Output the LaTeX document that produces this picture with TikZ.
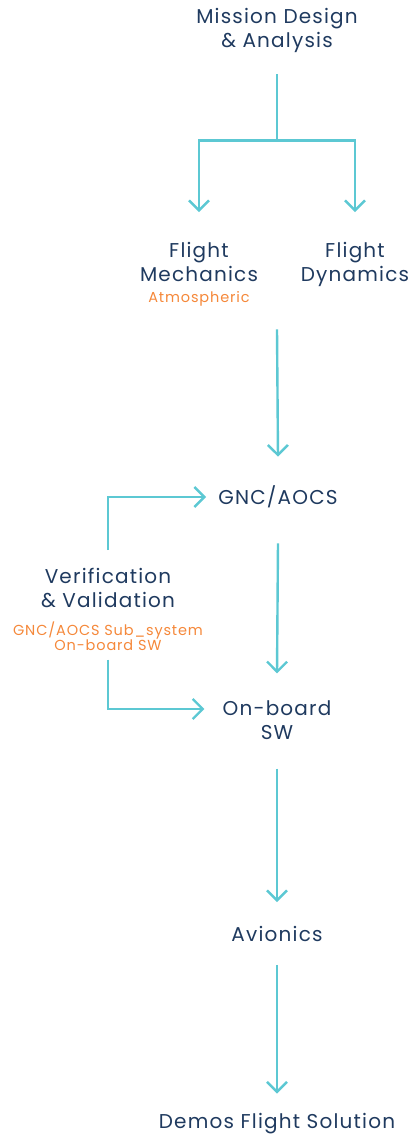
\documentclass[tikz,border=0pt]{standalone}
\usepackage{fontspec}
\setmainfont{Poppins}[LetterSpace=6]
\usetikzlibrary{arrows.meta,calc}
\definecolor{navy}{HTML}{1F3A5F}
\definecolor{flowcyan}{HTML}{5CC8D3}
\definecolor{accent}{HTML}{F5883A}
\tikzstyle{topic} = [text=navy, font=\fontsize{20}{24}\selectfont, align=center, inner sep=0pt]
\tikzstyle{remark} = [text=accent, font=\fontsize{14.5}{15}\selectfont, align=center, inner sep=0pt]
\tikzstyle{link} = [draw=flowcyan, line width=2.4pt]
\tikzstyle{flow} = [link, -{Straight Barb[length=10pt,width=20pt]}]

\begin{document}
\begin{tikzpicture}[x=1pt,y=-1pt]
\useasboundingbox (0,0) rectangle (408,1136);

\node[topic, name=mission] at (277,30) {Mission Design\\\& Analysis};
\node[topic, name=mech] at (199,262) {Flight\\Mechanics};
\node[remark, name=atmo] at (199,299) {Atmospheric};
\node[topic, name=dyn, anchor=north] at ($(mech.north)+(156,0)$) {Flight\\Dynamics};
\node[topic, name=gnc] at (278,497) {GNC/AOCS};
\node[topic, name=vv] at (108,588) {Verification\\\& Validation};
\node[remark, name=vvsub] at (108,636) {GNC/AOCS Sub\_system\\On-board SW};
\node[topic, name=obsw] at (277,720) {On-board\\SW};
\node[topic, name=avio] at (277,934) {Avionics};
\node[topic, name=demo] at (277,1124) {Demos Flight Solution};

% split below mission design
\coordinate (split) at ($(mission.south)+(0,88)$);
\draw[link] ($(mission.south)+(0,22)$) -- (split);
\draw[flow] (split) -| ($(mech.north)+(0,-30)$);
\draw[flow] (split) -| ($(dyn.north)+(0,-30)$);

% main chain
\draw[flow] ($(mech.south)!.5!(dyn.south)+(0,45)$) -- ($(gnc.north)+(0,-29)$);
\draw[flow] ($(gnc.south)+(0,35)$) -- ($(obsw.north)+(0,-27)$);
\draw[flow] ($(obsw.south)+(0,29)$) -- ($(avio.north)+(0,-24)$);
\draw[flow] ($(avio.south)+(0,23)$) -- ($(demo.north)+(0,-20)$);

% verification loops
\draw[flow] ($(vv.north)+(0,-18)$) |- ($(gnc.west)+(-12,0)$);
\draw[flow] ($(vvsub.south)+(0,9)$) |- ($(obsw.west)+(-18,-11)$);

\end{tikzpicture}
\end{document}
